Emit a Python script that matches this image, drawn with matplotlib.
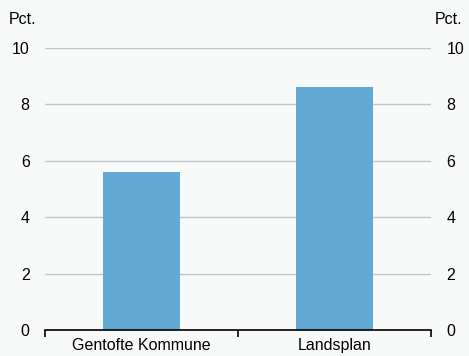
import matplotlib.pyplot as plt
import numpy as np

plt.rcParams['font.family'] = ['Liberation Sans', 'DejaVu Sans']

categories = ["Gentofte Kommune", "Landsplan"]
values = [5.6, 8.6]
yticks = [0, 2, 4, 6, 8, 10]

bg = "#f8f9f9"
fig = plt.figure(figsize=(4.69, 3.56), dpi=100, facecolor=bg)
ax = fig.add_axes([45/469, 26/356, 386/469, 282/356], facecolor=bg)

x = np.arange(len(categories))
ax.bar(x, values, width=0.4, color="#62aad5", zorder=3)

ax.set_xlim(-0.5, 1.5)
ax.set_ylim(0, 10)
ax.set_yticks(yticks)
ax.grid(axis="y", color="#c4c4c4", linewidth=1, zorder=0)
ax.tick_params(axis="y", length=0, labelsize=11.5, pad=11, labelleft=True, labelright=True)

for s in ["top", "left", "right"]:
    ax.spines[s].set_visible(False)
ax.spines["bottom"].set_color("black")
ax.spines["bottom"].set_linewidth(1.2)
ax.spines["bottom"].set_zorder(4)

ax.set_xticks([-0.5, 0.5, 1.5])
ax.set_xticklabels([])
ax.tick_params(axis="x", length=5, width=1.2, color="black", direction="out")
ax.set_xticks(x, minor=True)
ax.set_xticklabels(categories, minor=True)
ax.tick_params(axis="x", which="minor", length=0, labelsize=11.5, pad=6)

fig.text(9/469, 1 - 19/356, "Pct.", fontsize=11.5, va="center", ha="left")
fig.text(462/469, 1 - 19/356, "Pct.", fontsize=11.5, va="center", ha="right")

fig.savefig("out.png", dpi=100, facecolor=bg)
